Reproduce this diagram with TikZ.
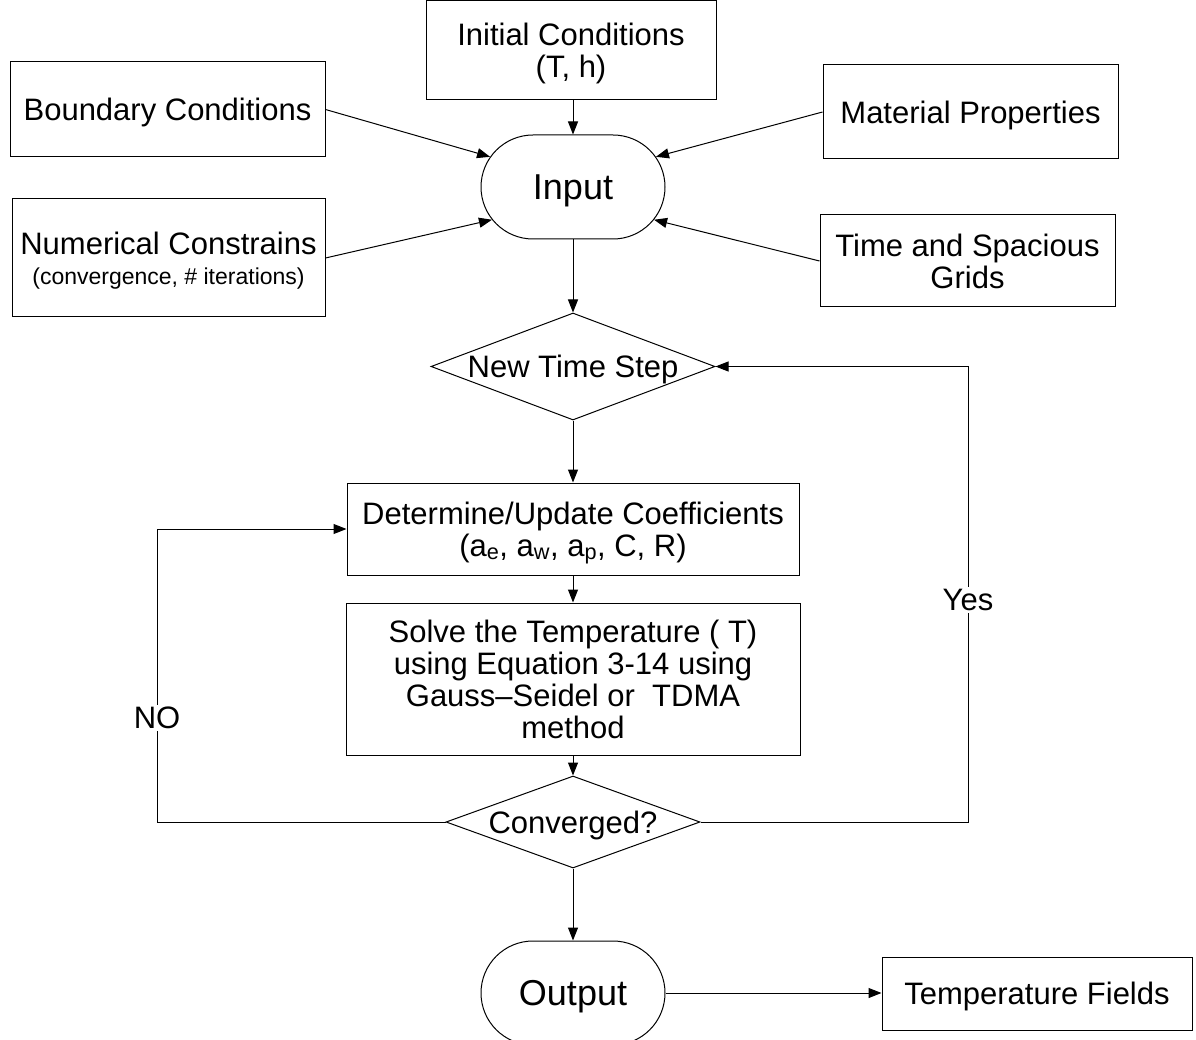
\documentclass[tikz,border=0pt]{standalone}
\usepackage{fontspec}
\setmainfont{Liberation Sans}
\usetikzlibrary{shapes.geometric,shapes.misc,arrows.meta}
\begin{document}
\begin{tikzpicture}[x=1pt,y=-1pt,
  line width=1pt,
  box/.style={draw, rectangle, inner sep=0pt, text depth=0pt, align=center, font=\fontsize{31}{32}\selectfont},
  term/.style={draw, rounded rectangle, inner sep=0pt, text depth=0pt, minimum width=184pt, minimum height=104pt, font=\fontsize{36}{38}\selectfont},
  decision/.style={draw, diamond, inner sep=0pt, text depth=0pt, font=\fontsize{31}{32}\selectfont},
  flow/.style={-{Triangle[length=13pt,width=10pt]}},
  tag/.style={fill=white, inner sep=2pt, font=\fontsize{31}{32}\selectfont}]

\useasboundingbox (0,0) rectangle (1196,1040);
\clip (0,0) rectangle (1196,1040);

% input boxes
\node[box, minimum width=290pt, minimum height=99pt] (init) at (571,50.5) {Initial Conditions\\(T, h)};
\node[box, minimum width=315pt, minimum height=95pt] (bc) at (167.5,109.5) {Boundary Conditions};
\node[box, minimum width=295pt, minimum height=94pt] (mp) at (970.5,112) {Material Properties};
\node[box, minimum width=313pt, minimum height=118pt] (nc) at (168.5,258)
  {Numerical Constrains\\[-2pt]{\fontsize{23}{24}\selectfont (convergence, \# iterations)}};
\node[box, minimum width=295pt, minimum height=92pt] (tg) at (967.5,261) {Time and Spacious\\Grids};

% main flow
\node[term] (input) at (573,187) {Input};
\node[decision, minimum width=284pt, minimum height=107pt] (nts) at (573,366.5) {\makebox[0pt]{New Time Step}};
\node[box, minimum width=452pt, minimum height=92pt] (coef) at (573,529)
  {Determine/Update Coefficients\\(a\textsubscript{e}, a\textsubscript{w}, a\textsubscript{p}, C, R)};
\node[box, minimum width=454pt, minimum height=152pt] (solve) at (573,679)
  {Solve the Temperature ( T)\\using Equation 3-14 using\\Gauss--Seidel or~ TDMA\\method};
\node[decision, minimum width=254pt, minimum height=92pt] (conv) at (573,822) {\makebox[0pt]{Converged?}};
\node[term] (output) at (573,993) {Output};
\node[box, minimum width=310pt, minimum height=73pt] (tf) at (1037,993.5) {Temperature Fields};

% inputs feeding the solver set-up
\draw[flow] (init.south -| input.north) -- (input.north);
\draw[flow] (bc.east) -- (input.160);
\draw[flow] (mp.west) -- (input.20);
\draw[flow] (nc.east) -- (input.202);
\draw[flow] (tg.west) -- (input.338);

% time loop
\draw[flow] (input.south) -- (nts.north);
\draw[flow] (nts.south) -- (coef.north);
\draw[flow] (coef.south) -- (solve.north);
\draw[flow] (solve.south) -- (conv.north);
\draw[flow] (conv.south) -- (output.north);
\draw[flow] (output.east) -- (output.east -| tf.west);

% iteration loop (not converged)
\coordinate (noTurn) at (157,822);
\draw[flow] (conv.west) -- (noTurn) |- (coef.west);
\node[tag] (no) at (157,718) {NO};

% next time step (converged)
\coordinate (yesTurn) at (968,822);
\draw[flow] (conv.east) -- (yesTurn) |- (nts.east);
\node[tag] (yes) at (968,600) {Yes};
\end{tikzpicture}
\end{document}
